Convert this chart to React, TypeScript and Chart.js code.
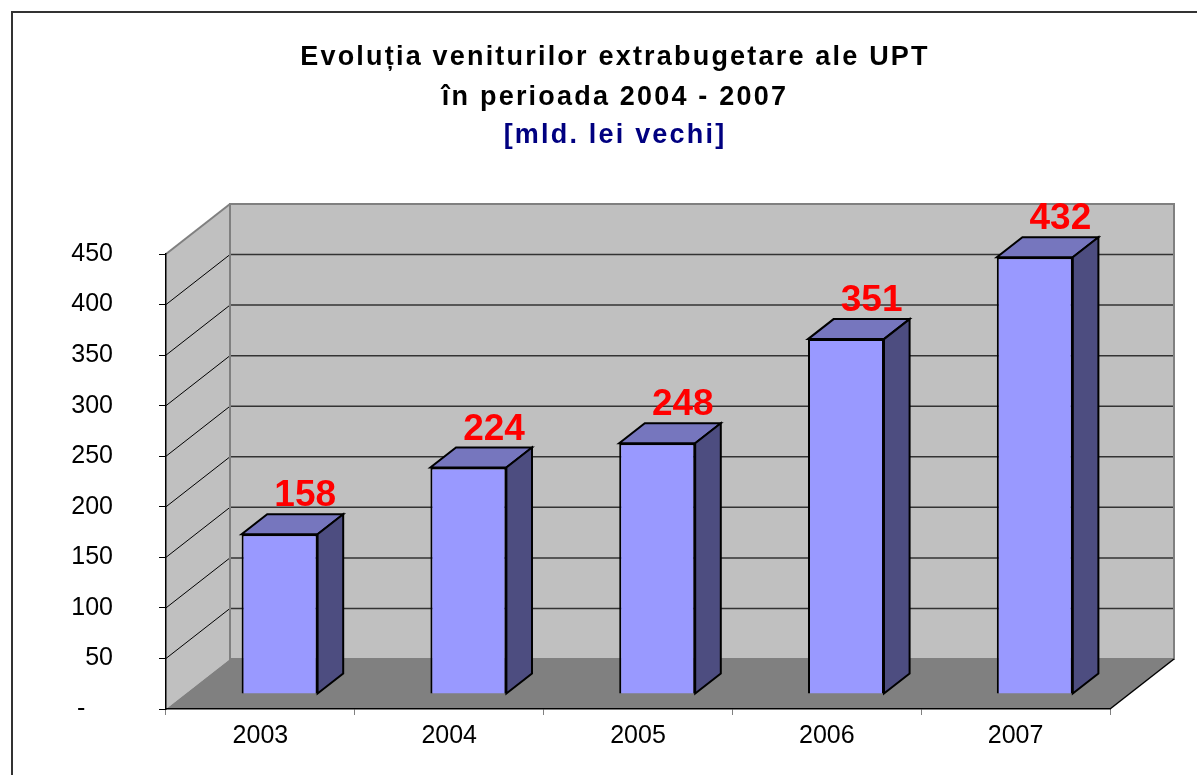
import React, { useEffect, useRef } from 'react';
import { Chart, registerables } from 'chart.js';

Chart.register(...registerables);

// ---- data ----
const categories: string[] = ['2003', '2004', '2005', '2006', '2007'];
const values: number[] = [158, 224, 248, 351, 432];
const yMin = 0;
const yMax = 450;
const yStep = 50;
const titleLines: string[] = ['Evoluția veniturilor extrabugetare ale UPT', 'în perioada 2004 - 2007'];
const subtitleText = '[mld. lei vechi]';

// ---- 3D look ----
const WALL_DX = 64;
const WALL_DY = -50;
const BAR_FRONT = 0.3; // fraction of wall depth where bar front face sits
const BAR_DEPTH = 0.4; // fraction of wall depth occupied by bar
const TITLE_SHIFT = 60;
const TITLE_SPACING = '2.2px';
const FONT = '"Liberation Sans", Arial, sans-serif';

function poly(ctx: CanvasRenderingContext2D, pts: number[][]) {
  ctx.beginPath();
  ctx.moveTo(pts[0][0], pts[0][1]);
  for (let i = 1; i < pts.length; i++) ctx.lineTo(pts[i][0], pts[i][1]);
  ctx.closePath();
}

function isTitleBox(b: any): boolean {
  const t = b && b.options ? b.options.text : undefined;
  if (t === undefined || t === null) return false;
  if (typeof t === 'string') return t === subtitleText;
  if (t && typeof t === 'object' && t.length) return t[0] === titleLines[0];
  return false;
}

const threeDPlugin = {
  id: 'threeD',
  afterLayout(chart: any) {
    (chart.boxes || []).forEach((b: any) => {
      if (!isTitleBox(b)) return;
      b.left += TITLE_SHIFT;
      b.right += TITLE_SHIFT;
      if (!b.__spaced) {
        const orig = b.draw;
        b.draw = function (...args: any[]) {
          const c = this.ctx as any;
          c.save();
          c.letterSpacing = TITLE_SPACING;
          orig.apply(this, args);
          c.restore();
        };
        b.__spaced = true;
      }
    });
  },
  beforeDraw(chart: any) {
    const { ctx, chartArea: a, scales } = chart;
    const y = scales.y;
    ctx.save();
    ctx.fillStyle = '#ffffff';
    ctx.fillRect(0, 0, chart.width, chart.height);
    ctx.strokeStyle = '#333333';
    ctx.lineWidth = 2;
    ctx.strokeRect(12, 12, chart.width + 20, chart.height + 20);

    const L = a.left;
    const R = a.right;
    const T = y.getPixelForValue(yMax);
    const B = y.getPixelForValue(yMin);

    // back wall
    ctx.fillStyle = '#c0c0c0';
    ctx.fillRect(L + WALL_DX, T + WALL_DY, R - L, B - T);
    // left wall
    poly(ctx, [[L, B], [L, T], [L + WALL_DX, T + WALL_DY], [L + WALL_DX, B + WALL_DY]]);
    ctx.fill();

    // grid lines
    y.ticks.forEach((t: any) => {
      if (t.value === yMin || t.value === yMax) return;
      const py = y.getPixelForValue(t.value);
      ctx.strokeStyle = '#333333';
      ctx.lineWidth = 1.5;
      ctx.beginPath();
      ctx.moveTo(L + WALL_DX, py + WALL_DY);
      ctx.lineTo(R + WALL_DX, py + WALL_DY);
      ctx.stroke();
      ctx.strokeStyle = '#000000';
      ctx.lineWidth = 1;
      ctx.beginPath();
      ctx.moveTo(L, py);
      ctx.lineTo(L + WALL_DX, py + WALL_DY);
      ctx.stroke();
    });

    // wall outlines
    ctx.strokeStyle = '#808080';
    ctx.lineWidth = 2;
    ctx.strokeRect(L + WALL_DX, T + WALL_DY, R - L, B - T);
    ctx.beginPath();
    ctx.moveTo(L, T);
    ctx.lineTo(L + WALL_DX, T + WALL_DY);
    ctx.stroke();

    // floor
    ctx.fillStyle = '#808080';
    poly(ctx, [[L, B], [R, B], [R + WALL_DX, B + WALL_DY], [L + WALL_DX, B + WALL_DY]]);
    ctx.fill();
    ctx.strokeStyle = '#000000';
    ctx.lineWidth = 1.5;
    ctx.beginPath();
    ctx.moveTo(R, B);
    ctx.lineTo(R + WALL_DX, B + WALL_DY);
    ctx.stroke();
    ctx.restore();
  },
  beforeDatasetsDraw(chart: any) {
    const ctx = chart.ctx;
    ctx.save();
    ctx.translate(WALL_DX * BAR_FRONT, WALL_DY * BAR_FRONT);
  },
  afterDatasetsDraw(chart: any) {
    const ctx = chart.ctx;
    const meta = chart.getDatasetMeta(0);
    const bdx = WALL_DX * BAR_DEPTH;
    const bdy = WALL_DY * BAR_DEPTH;
    meta.data.forEach((bar: any, i: number) => {
      const xl = bar.x - bar.width / 2;
      const xr = bar.x + bar.width / 2;
      const yt = bar.y;
      const yb = bar.base;
      ctx.lineWidth = 2;
      ctx.strokeStyle = '#000000';
      ctx.lineJoin = 'miter';
      // top face
      ctx.fillStyle = '#7676be';
      poly(ctx, [[xl, yt], [xr, yt], [xr + bdx, yt + bdy], [xl + bdx, yt + bdy]]);
      ctx.fill();
      ctx.stroke();
      // side face
      ctx.fillStyle = '#4d4d80';
      poly(ctx, [[xr, yt], [xr, yb], [xr + bdx, yb + bdy], [xr + bdx, yt + bdy]]);
      ctx.fill();
      ctx.stroke();
      // value label
      ctx.fillStyle = '#ff0000';
      ctx.font = `bold 37px ${FONT}`;
      ctx.textAlign = 'center';
      ctx.textBaseline = 'alphabetic';
      ctx.fillText(String(values[i]), bar.x + bdx, yt + bdy - 8);
    });
    ctx.restore();
  },
};

export default function App() {
  const canvasRef = useRef<HTMLCanvasElement | null>(null);

  useEffect(() => {
    const canvas = canvasRef.current;
    if (!canvas) return;
    const chart = new Chart(canvas, {
      type: 'bar',
      data: {
        labels: categories,
        datasets: [
          {
            data: values,
            backgroundColor: '#9999ff',
            borderColor: '#000000',
            borderWidth: 2,
            barPercentage: 0.4025,
            categoryPercentage: 1,
            clip: false as any,
          },
        ],
      },
      options: {
        responsive: false,
        animation: false,
        layout: { padding: { left: 0, right: 87, top: 0, bottom: 0 } },
        plugins: {
          legend: { display: false },
          tooltip: { enabled: false },
          title: {
            display: true,
            text: titleLines,
            color: '#000000',
            font: { family: FONT, size: 27, weight: 'bold', lineHeight: '40px' as any },
            padding: { top: 38, bottom: 0 },
          },
          subtitle: {
            display: true,
            text: subtitleText,
            color: '#000080',
            font: { family: FONT, size: 27, weight: 'bold', lineHeight: '36px' as any },
            padding: { top: 0, bottom: 100 },
          },
        },
        scales: {
          x: {
            afterFit: (s: any) => {
              s.height = 66;
            },
            grid: {
              drawOnChartArea: false,
              drawTicks: true,
              tickLength: 6,
              color: '#808080',
              offset: true,
            },
            border: { display: true, color: '#000000', width: 1.5 },
            ticks: {
              color: '#000000',
              font: { family: FONT, size: 25 },
              padding: 6,
              maxRotation: 0,
            },
          },
          y: {
            min: yMin,
            max: yMax,
            afterFit: (s: any) => {
              s.width = 166;
            },
            grid: {
              drawOnChartArea: false,
              drawTicks: true,
              tickLength: 7,
              color: '#000000',
            },
            border: { display: true, color: '#000000', width: 1.5 },
            ticks: {
              stepSize: yStep,
              color: '#000000',
              font: { family: FONT, size: 25 },
              padding: 46,
              callback: (v: any) => (Number(v) === 0 ? '-    ' : String(v)),
            },
          },
        },
      },
      plugins: [threeDPlugin],
    });
    return () => chart.destroy();
  }, []);

  return (
    <div style={{ position: 'fixed', left: 0, top: 0, width: 1197, height: 775, background: '#fff' }}>
      <canvas ref={canvasRef} width={1197} height={775} style={{ display: 'block' }} />
    </div>
  );
}
